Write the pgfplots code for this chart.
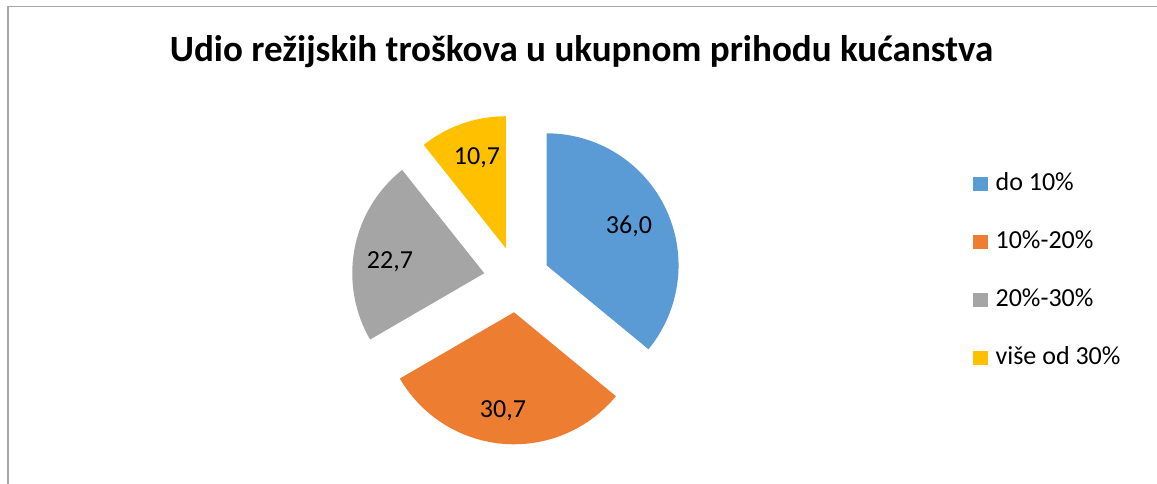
\documentclass[border=0pt]{standalone}
\usepackage{pgfplots}
\pgfplotsset{compat=1.18}
\usepackage{fontspec}
\setmainfont{Carlito}
\definecolor{cA}{HTML}{5B9BD5}
\definecolor{cB}{HTML}{ED7D31}
\definecolor{cC}{HTML}{A5A5A5}
\definecolor{cD}{HTML}{FFC000}
\definecolor{frame}{HTML}{A6A6A6}
% data
\def\vA{36.0}\def\vB{30.7}\def\vC{22.7}\def\vD{10.7}
% geometry in px (y up)
\def\cx{516.7}\def\cy{204.6}\def\R{132}\def\ex{33}
\pgfmathsetmacro{\tot}{\vA+\vB+\vC+\vD}
\pgfmathsetmacro{\sA}{90}
\pgfmathsetmacro{\eA}{\sA-360*\vA/\tot}
\pgfmathsetmacro{\eB}{\eA-360*\vB/\tot}
\pgfmathsetmacro{\eC}{\eB-360*\vC/\tot}
\pgfmathsetmacro{\eD}{\eC-360*\vD/\tot}
\pgfmathsetmacro{\mA}{(\sA+\eA)/2}
\pgfmathsetmacro{\mB}{(\eA+\eB)/2}
\pgfmathsetmacro{\mC}{(\eB+\eC)/2}
\pgfmathsetmacro{\mD}{(\eC+\eD)/2}
\pgfmathsetmacro{\xA}{\cx+\ex*cos(\mA)}\pgfmathsetmacro{\yA}{\cy+\ex*sin(\mA)}
\pgfmathsetmacro{\xB}{\cx+\ex*cos(\mB)}\pgfmathsetmacro{\yB}{\cy+\ex*sin(\mB)}
\pgfmathsetmacro{\xC}{\cx+\ex*cos(\mC)}\pgfmathsetmacro{\yC}{\cy+\ex*sin(\mC)}
\pgfmathsetmacro{\xD}{\cx+\ex*cos(\mD)}\pgfmathsetmacro{\yD}{\cy+\ex*sin(\mD)}
\begin{document}
\begin{tikzpicture}
\begin{axis}[
  scale only axis, width=867.75pt, height=363pt,
  xmin=0, xmax=1157, ymin=0, ymax=484,
  hide axis, clip=false,
  legend style={draw=none, fill=none, at={(axis cs:973,312)}, anchor=north west,
    font=\fontsize{19.5}{23}\selectfont, row sep=25.5pt, column sep=5.5pt, inner sep=0pt,
    nodes={inner sep=0pt, text height=14pt, text depth=4pt}},
  legend cell align=left,
  legend image code/.code={\fill[#1] (0pt,-5.25pt) rectangle (11.25pt,5.25pt);},
  every axis plot/.append style={draw=none},
]
\addplot[fill=cA, domain=\eA:\sA, samples=120, variable=\t] ({\xA+\R*cos(\t)},{\yA+\R*sin(\t)}) -- (axis cs:\xA,\yA) -- cycle;
\addlegendentry{do 10\%}
\addplot[fill=cB, domain=\eB:\eA, samples=120, variable=\t] ({\xB+\R*cos(\t)},{\yB+\R*sin(\t)}) -- (axis cs:\xB,\yB) -- cycle;
\addlegendentry{10\%-20\%}
\addplot[fill=cC, domain=\eC:\eB, samples=120, variable=\t] ({\xC+\R*cos(\t)},{\yC+\R*sin(\t)}) -- (axis cs:\xC,\yC) -- cycle;
\addlegendentry{20\%-30\%}
\addplot[fill=cD, domain=\eD:\eC, samples=120, variable=\t] ({\xD+\R*cos(\t)},{\yD+\R*sin(\t)}) -- (axis cs:\xD,\yD) -- cycle;
\addlegendentry{više od 30\%}
% data labels
\node[font=\fontsize{19.5}{23}\selectfont] at (axis cs:629,258) {36,0};
\node[font=\fontsize{19.5}{23}\selectfont] at (axis cs:503,73) {30,7};
\node[font=\fontsize{19.5}{23}\selectfont] at (axis cs:390,222) {22,7};
\node[font=\fontsize{19.5}{23}\selectfont] at (axis cs:477,326) {10,7};
% title
\node[font=\fontsize{27.8}{33}\selectfont\bfseries, anchor=base] at (axis cs:581.5,422.3) {Udio režijskih troškova u ukupnom prihodu kućanstva};
% chart frame
\draw[frame, line width=1.1pt] (axis cs:8,0) -- (axis cs:8,477.5) -- (axis cs:1157,477.5);
\end{axis}
\pgfresetboundingbox
\path[use as bounding box] (current axis.south west) rectangle (current axis.north east);
\end{tikzpicture}
\end{document}
